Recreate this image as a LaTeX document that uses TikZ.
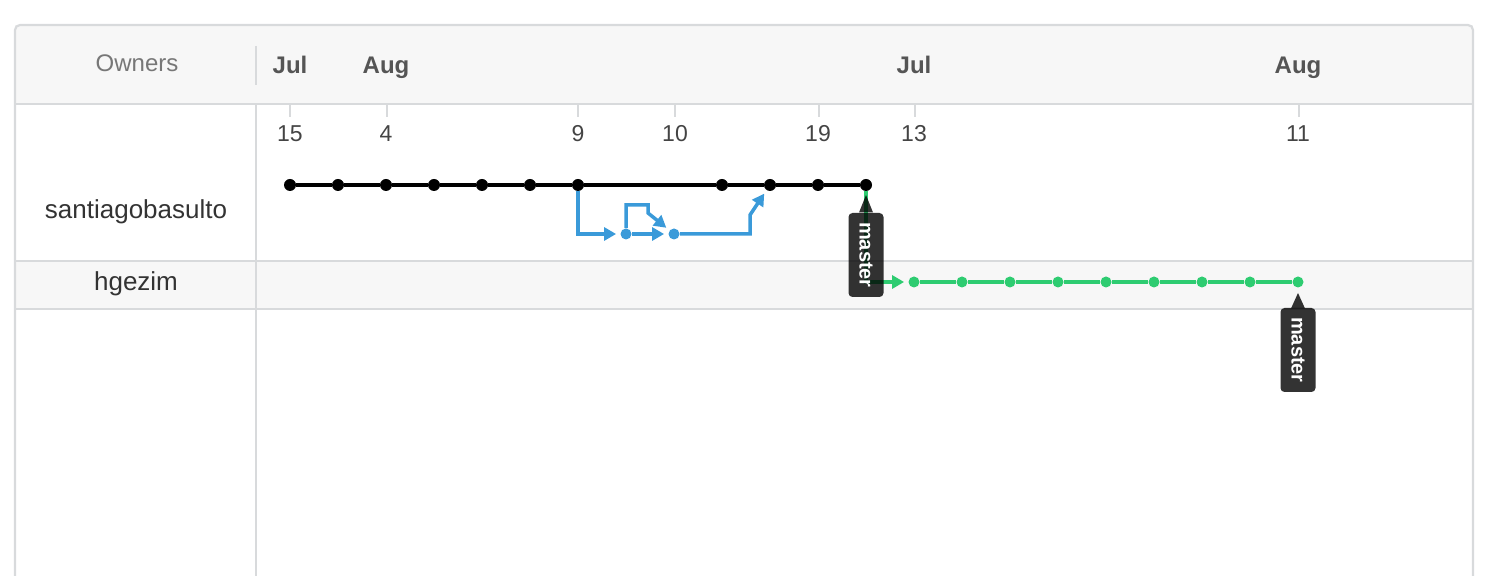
\documentclass[tikz,border=0pt]{standalone}
\usepackage{fontspec}
\setmainfont{Liberation Sans}
\usetikzlibrary{arrows.meta}
\definecolor{gridgray}{HTML}{D8DADC}
\definecolor{headfill}{HTML}{F7F7F7}
\definecolor{ownergray}{HTML}{777777}
\definecolor{monthgray}{HTML}{555555}
\definecolor{daygray}{HTML}{444444}
\definecolor{namegray}{HTML}{333333}
\definecolor{forkblue}{HTML}{3A9AD9}
\definecolor{forkgreen}{HTML}{2ECC71}

\begin{document}
\begin{tikzpicture}[x=0.5pt,y=-0.5pt,
    commit/.style={circle,fill=black,inner sep=0pt,minimum size=6pt},
    bcommit/.style={commit,fill=forkblue,minimum size=5.5pt},
    gcommit/.style={commit,fill=forkgreen,minimum size=5.5pt},
    masterline/.style={line width=1.75pt,black},
    blueline/.style={line width=1.75pt,forkblue,-{Triangle[length=6pt,width=6.5pt]},shorten >=2pt},
    greenline/.style={line width=1.6pt,forkgreen,-{Triangle[length=6pt,width=6.5pt]},shorten >=2pt},
    tagbox/.style={rotate=-90,fill=black,fill opacity=0.8,text opacity=1,text=white,
        rounded corners=2pt,inner sep=0pt,minimum width=42pt,minimum height=17.5pt,
        font=\fontsize{10}{12}\selectfont\bfseries},
    month/.style={anchor=base,text=monthgray,font=\fontsize{12}{14}\selectfont\bfseries},
    day/.style={anchor=base,text=daygray,font=\fontsize{11.5}{14}\selectfont},
    owner/.style={anchor=base,text=namegray,font=\fontsize{13}{15}\selectfont},
    tick/.style={gridgray,line width=1pt}]
    \pgfmathsetmacro{\rowS}{185}
    \pgfmathsetmacro{\rowB}{234}
    \pgfmathsetmacro{\rowH}{282}
    \pgfmathsetmacro{\dayy}{142}

    \useasboundingbox (0,0) rectangle (1490,576);
    \clip (0,0) rectangle (1490,576);

    % Draw the table
    \fill[headfill] (15,104) -- (15,25) -- (1473,25) -- (1473,104) -- cycle;
    \fill[headfill] (15,261) rectangle (1473,309);
    \draw[gridgray,line width=1pt] (15,104) -- (1473,104);
    \draw[gridgray,line width=1pt] (15,261) -- (1473,261);
    \draw[gridgray,line width=1pt] (15,309) -- (1473,309);
    \draw[gridgray,line width=1pt] (256,104) -- (256,580);
    \draw[gridgray,line width=1pt] (256,46) -- (256,85);
    \draw[gridgray,line width=1.1pt,rounded corners=2.5pt] (15,590) -- (15,25) -- (1473,25) -- (1473,590);

    % Owners
    \node[anchor=base,text=ownergray,font=\fontsize{12}{14}\selectfont] (owners) at (137,72) {Owners};
    \node[owner] (santiago) at (136,219) {santiagobasulto};
    \node[owner] (hgezim) at (136,291) {hgezim};

    % Months and days
    \node[month] (jul1) at (290,74) {Jul};
    \node[month] (aug1) at (386,74) {Aug};
    \node[month] (jul2) at (914,74) {Jul};
    \node[month] (aug2) at (1298,74) {Aug};
    \draw[tick] (290,105) -- (290,117);
    \draw[tick] (387,105) -- (387,117);
    \draw[tick] (578,105) -- (578,117);
    \draw[tick] (675,105) -- (675,117);
    \draw[tick] (819,105) -- (819,117);
    \draw[tick] (915,105) -- (915,117);
    \draw[tick] (1299,105) -- (1299,117);
    \node[day] (d15) at (290,\dayy) {15};
    \node[day] (d4) at (386,\dayy) {4};
    \node[day] (d9) at (578,\dayy) {9};
    \node[day] (d10) at (675,\dayy) {10};
    \node[day] (d19) at (818,\dayy) {19};
    \node[day] (d13) at (914,\dayy) {13};
    \node[day] (d11) at (1298,\dayy) {11};

    % Commits of santiagobasulto
    \node[commit] (s1) at (290,\rowS) {};
    \node[commit] (s2) at (338,\rowS) {};
    \node[commit] (s3) at (386,\rowS) {};
    \node[commit] (s4) at (434,\rowS) {};
    \node[commit] (s5) at (482,\rowS) {};
    \node[commit] (s6) at (530,\rowS) {};
    \node[commit] (s7) at (578,\rowS) {};
    \node[commit] (s8) at (722,\rowS) {};
    \node[commit] (s9) at (770,\rowS) {};
    \node[commit] (s10) at (818,\rowS) {};
    \node[commit] (s11) at (866,\rowS) {};
    \node[bcommit] (b1) at (626,\rowB) {};
    \node[bcommit] (b2) at (674,\rowB) {};

    % Commits of hgezim
    \node[gcommit] (h1) at (914,\rowH) {};
    \node[gcommit] (h2) at (962,\rowH) {};
    \node[gcommit] (h3) at (1010,\rowH) {};
    \node[gcommit] (h4) at (1058,\rowH) {};
    \node[gcommit] (h5) at (1106,\rowH) {};
    \node[gcommit] (h6) at (1154,\rowH) {};
    \node[gcommit] (h7) at (1202,\rowH) {};
    \node[gcommit] (h8) at (1250,\rowH) {};
    \node[gcommit] (h9) at (1298,\rowH) {};

    % Draw the branches
    \draw[masterline] (s1) -- (s2) -- (s3) -- (s4) -- (s5) -- (s6) -- (s7)
        -- (s8) -- (s9) -- (s10) -- (s11);
    \coordinate (bk1) at (626,205);
    \coordinate (bk2) at (648,205);
    \coordinate (bk3) at (648,213);
    \coordinate (bk4) at (750,\rowB);
    \coordinate (bk5) at (750,215);
    \draw[blueline] (s7) |- (b1);
    \draw[blueline] (b1) -- (bk1) -- (bk2) -- (bk3) -- (b2);
    \draw[blueline] (b1) -- (b2);
    \draw[blueline] (b2) -- (bk4) -- (bk5) -- (s9);
    \draw[greenline] (s11) |- (h1);
    \draw[line width=1.6pt,forkgreen] (h1) -- (h2) -- (h3) -- (h4) -- (h5) -- (h6)
        -- (h7) -- (h8) -- (h9);

    % Branch tags
    \node[tagbox] (tagS) at (866,255) {master};
    \fill[black,fill opacity=0.8] (859,212.5) -- (866,195) -- (873,212.5) -- cycle;
    \node[tagbox] (tagH) at (1298,350) {master};
    \fill[black,fill opacity=0.8] (1291,308.5) -- (1298,293) -- (1305,308.5) -- cycle;

\end{tikzpicture}
\end{document}
